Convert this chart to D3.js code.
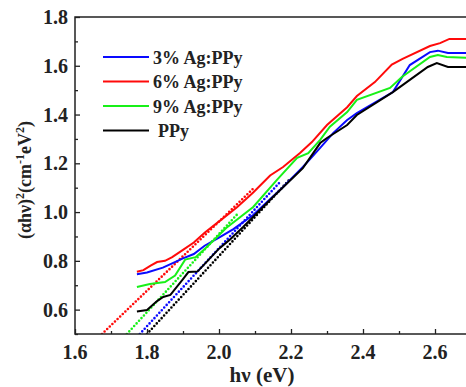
<!DOCTYPE html>
<html>
<head>
<meta charset="utf-8">
<script src="https://cdn.jsdelivr.net/npm/d3@7"></script>
<style>
  body { margin: 0; background: #fff; }
  text { font-family: "Liberation Serif", "Times New Roman", serif; font-weight: bold; }
</style>
</head>
<body>
<script>
const width = 466;
const height = 387;

// measured curves [hv, (ahv)^2]
const ag3 = [[1.772,0.745],[1.80,0.752],[1.844,0.772],[1.87,0.79],[1.90,0.81],[1.93,0.828],[1.96,0.862],[2.0,0.895],[2.04,0.93],[2.095,0.988],[2.178,1.103],[2.233,1.185],[2.281,1.263],[2.317,1.324],[2.356,1.378],[2.383,1.406],[2.483,1.492],[2.53,1.603],[2.586,1.656],[2.608,1.662],[2.636,1.652],[2.70,1.652]];
const ag6 = [[1.772,0.755],[1.79,0.762],[1.81,0.78],[1.828,0.795],[1.85,0.80],[1.87,0.815],[1.90,0.845],[1.93,0.875],[1.96,0.915],[2.003,0.965],[2.05,1.02],[2.095,1.08],[2.142,1.15],[2.178,1.185],[2.225,1.242],[2.258,1.287],[2.30,1.357],[2.356,1.43],[2.383,1.476],[2.433,1.533],[2.48,1.605],[2.51,1.628],[2.586,1.681],[2.614,1.693],[2.64,1.71],[2.70,1.71]];
const ag9 = [[1.772,0.693],[1.808,0.705],[1.85,0.713],[1.878,0.74],[1.906,0.805],[1.935,0.815],[1.961,0.85],[2.02,0.935],[2.095,1.021],[2.161,1.132],[2.217,1.222],[2.248,1.242],[2.281,1.296],[2.308,1.35],[2.356,1.41],[2.383,1.46],[2.475,1.509],[2.508,1.554],[2.586,1.636],[2.608,1.644],[2.633,1.636],[2.70,1.632]];
const ppy = [[1.772,0.592],[1.80,0.598],[1.828,0.635],[1.845,0.652],[1.865,0.66],[1.90,0.725],[1.915,0.754],[1.94,0.756],[1.965,0.795],[2.0,0.85],[2.03,0.887],[2.067,0.939],[2.15,1.062],[2.233,1.18],[2.281,1.283],[2.30,1.304],[2.356,1.357],[2.383,1.398],[2.483,1.492],[2.53,1.542],[2.58,1.595],[2.605,1.611],[2.636,1.595],[2.70,1.595]];

// linear fits (dotted)
const fit3 = [[1.78,0.5],[2.17,1.124]];
const fit6 = [[1.675,0.5],[2.10,1.103]];
const fit9 = [[1.744,0.5],[2.05,0.99]];
const fitP = [[1.80,0.5],[2.20,1.14]];

const seriesNames = ['3% Ag:PPy', '6% Ag:PPy', '9% Ag:PPy', 'PPy'];
const seriesColors = ['#0a0aff', '#ff0a0a', '#18f018', '#000000'];
const xTicks = [1.6, 1.8, 2.0, 2.2, 2.4, 2.6];
const yTicks = [0.6, 0.8, 1.0, 1.2, 1.4, 1.6, 1.8];

const curves = [ag3, ag6, ag9, ppy];
const fits = [fit3, fit6, fit9, fitP];

const mLeft = 75, mTop = 17, mRight = 471, mBottom = 334;

const x = d3.scaleLinear().domain([1.6, 2.7]).range([mLeft, mRight]);
const y = d3.scaleLinear().domain([0.5, 1.8]).range([mBottom, mTop]);

const svg = d3.select('body').append('svg')
  .attr('width', width)
  .attr('height', height);

svg.append('clipPath').attr('id', 'plot')
  .append('rect')
  .attr('x', mLeft).attr('y', mTop)
  .attr('width', mRight - mLeft).attr('height', mBottom - mTop);

const line = d3.line().x(d => x(d[0])).y(d => y(d[1]));

const g = svg.append('g').attr('clip-path', 'url(#plot)');

// dotted fits first
g.selectAll('path.fit')
  .data(fits)
  .enter()
  .append('path')
  .attr('class', 'fit')
  .attr('d', line)
  .style('fill', 'none')
  .style('stroke', (d, i) => seriesColors[i])
  .style('stroke-width', 2.6)
  .style('stroke-linecap', 'round')
  .style('stroke-dasharray', '0 3.6');

g.selectAll('path.curve')
  .data(curves)
  .enter()
  .append('path')
  .attr('class', 'curve')
  .attr('d', line)
  .style('fill', 'none')
  .style('stroke', (d, i) => seriesColors[i])
  .style('stroke-width', 2);

// axes with inward ticks
const xAxis = svg.append('g').attr('transform', `translate(0,${mBottom})`)
  .call(d3.axisBottom(x).tickValues(d3.range(1.6, 2.75, 0.1)).tickSize(-3).tickFormat(''));
xAxis.selectAll('.tick line').filter(d => xTicks.some(t => Math.abs(t - d) < 1e-6)).attr('y2', -5);
xAxis.select('.domain').remove();

const yAxis = svg.append('g').attr('transform', `translate(${mLeft},0)`)
  .call(d3.axisLeft(y).tickValues(d3.range(0.5, 1.85, 0.1)).tickSize(-3).tickFormat(''));
yAxis.selectAll('.tick line').filter(d => yTicks.some(t => Math.abs(t - d) < 1e-6)).attr('x2', 5);
yAxis.select('.domain').remove();

svg.selectAll('.tick line').style('stroke', '#222').style('stroke-width', 1.3);

svg.append('rect')
  .attr('x', mLeft).attr('y', mTop)
  .attr('width', mRight - mLeft).attr('height', mBottom - mTop)
  .style('fill', 'none')
  .style('stroke', '#222')
  .style('stroke-width', 1.5);

// tick labels
svg.selectAll('text.xt')
  .data(xTicks)
  .enter()
  .append('text')
  .attr('x', d => x(d))
  .attr('y', 359)
  .attr('text-anchor', 'middle')
  .style('font-size', '20px')
  .style('fill', '#222')
  .text(d => d.toFixed(1));

svg.selectAll('text.yt')
  .data(yTicks)
  .enter()
  .append('text')
  .attr('x', 68)
  .attr('y', d => y(d) + 7)
  .attr('text-anchor', 'end')
  .style('font-size', '20px')
  .style('fill', '#222')
  .text(d => d.toFixed(1));

// axis titles
svg.append('text')
  .attr('x', 262)
  .attr('y', 382)
  .attr('text-anchor', 'middle')
  .style('font-size', '21px')
  .style('fill', '#222')
  .text('hν (eV)');

const yt = svg.append('text')
  .attr('transform', 'translate(31,180) rotate(-90)')
  .attr('text-anchor', 'middle')
  .style('font-size', '18px')
  .style('fill', '#222');
yt.append('tspan').text('(αhν)');
yt.append('tspan').attr('dy', -7).style('font-size', '12px').text('2');
yt.append('tspan').attr('dy', 7).text('(cm');
yt.append('tspan').attr('dy', -7).style('font-size', '12px').text('-1');
yt.append('tspan').attr('dy', 7).text('eV');
yt.append('tspan').attr('dy', -7).style('font-size', '12px').text('2');
yt.append('tspan').attr('dy', 7).text(')');

// legend
const legend = svg.selectAll('g.leg')
  .data(seriesNames)
  .enter()
  .append('g')
  .attr('transform', (d, i) => `translate(103,${57 + i * 24.5})`);

legend.append('line')
  .attr('x1', 0).attr('x2', 46)
  .style('stroke', (d, i) => seriesColors[i])
  .style('stroke-width', 2);

legend.append('text')
  .attr('x', (d, i) => i === 3 ? 55 : 50)
  .attr('y', 6.5)
  .style('font-size', '18px')
  .style('fill', '#222')
  .text(d => d);
</script>
</body>
</html>
